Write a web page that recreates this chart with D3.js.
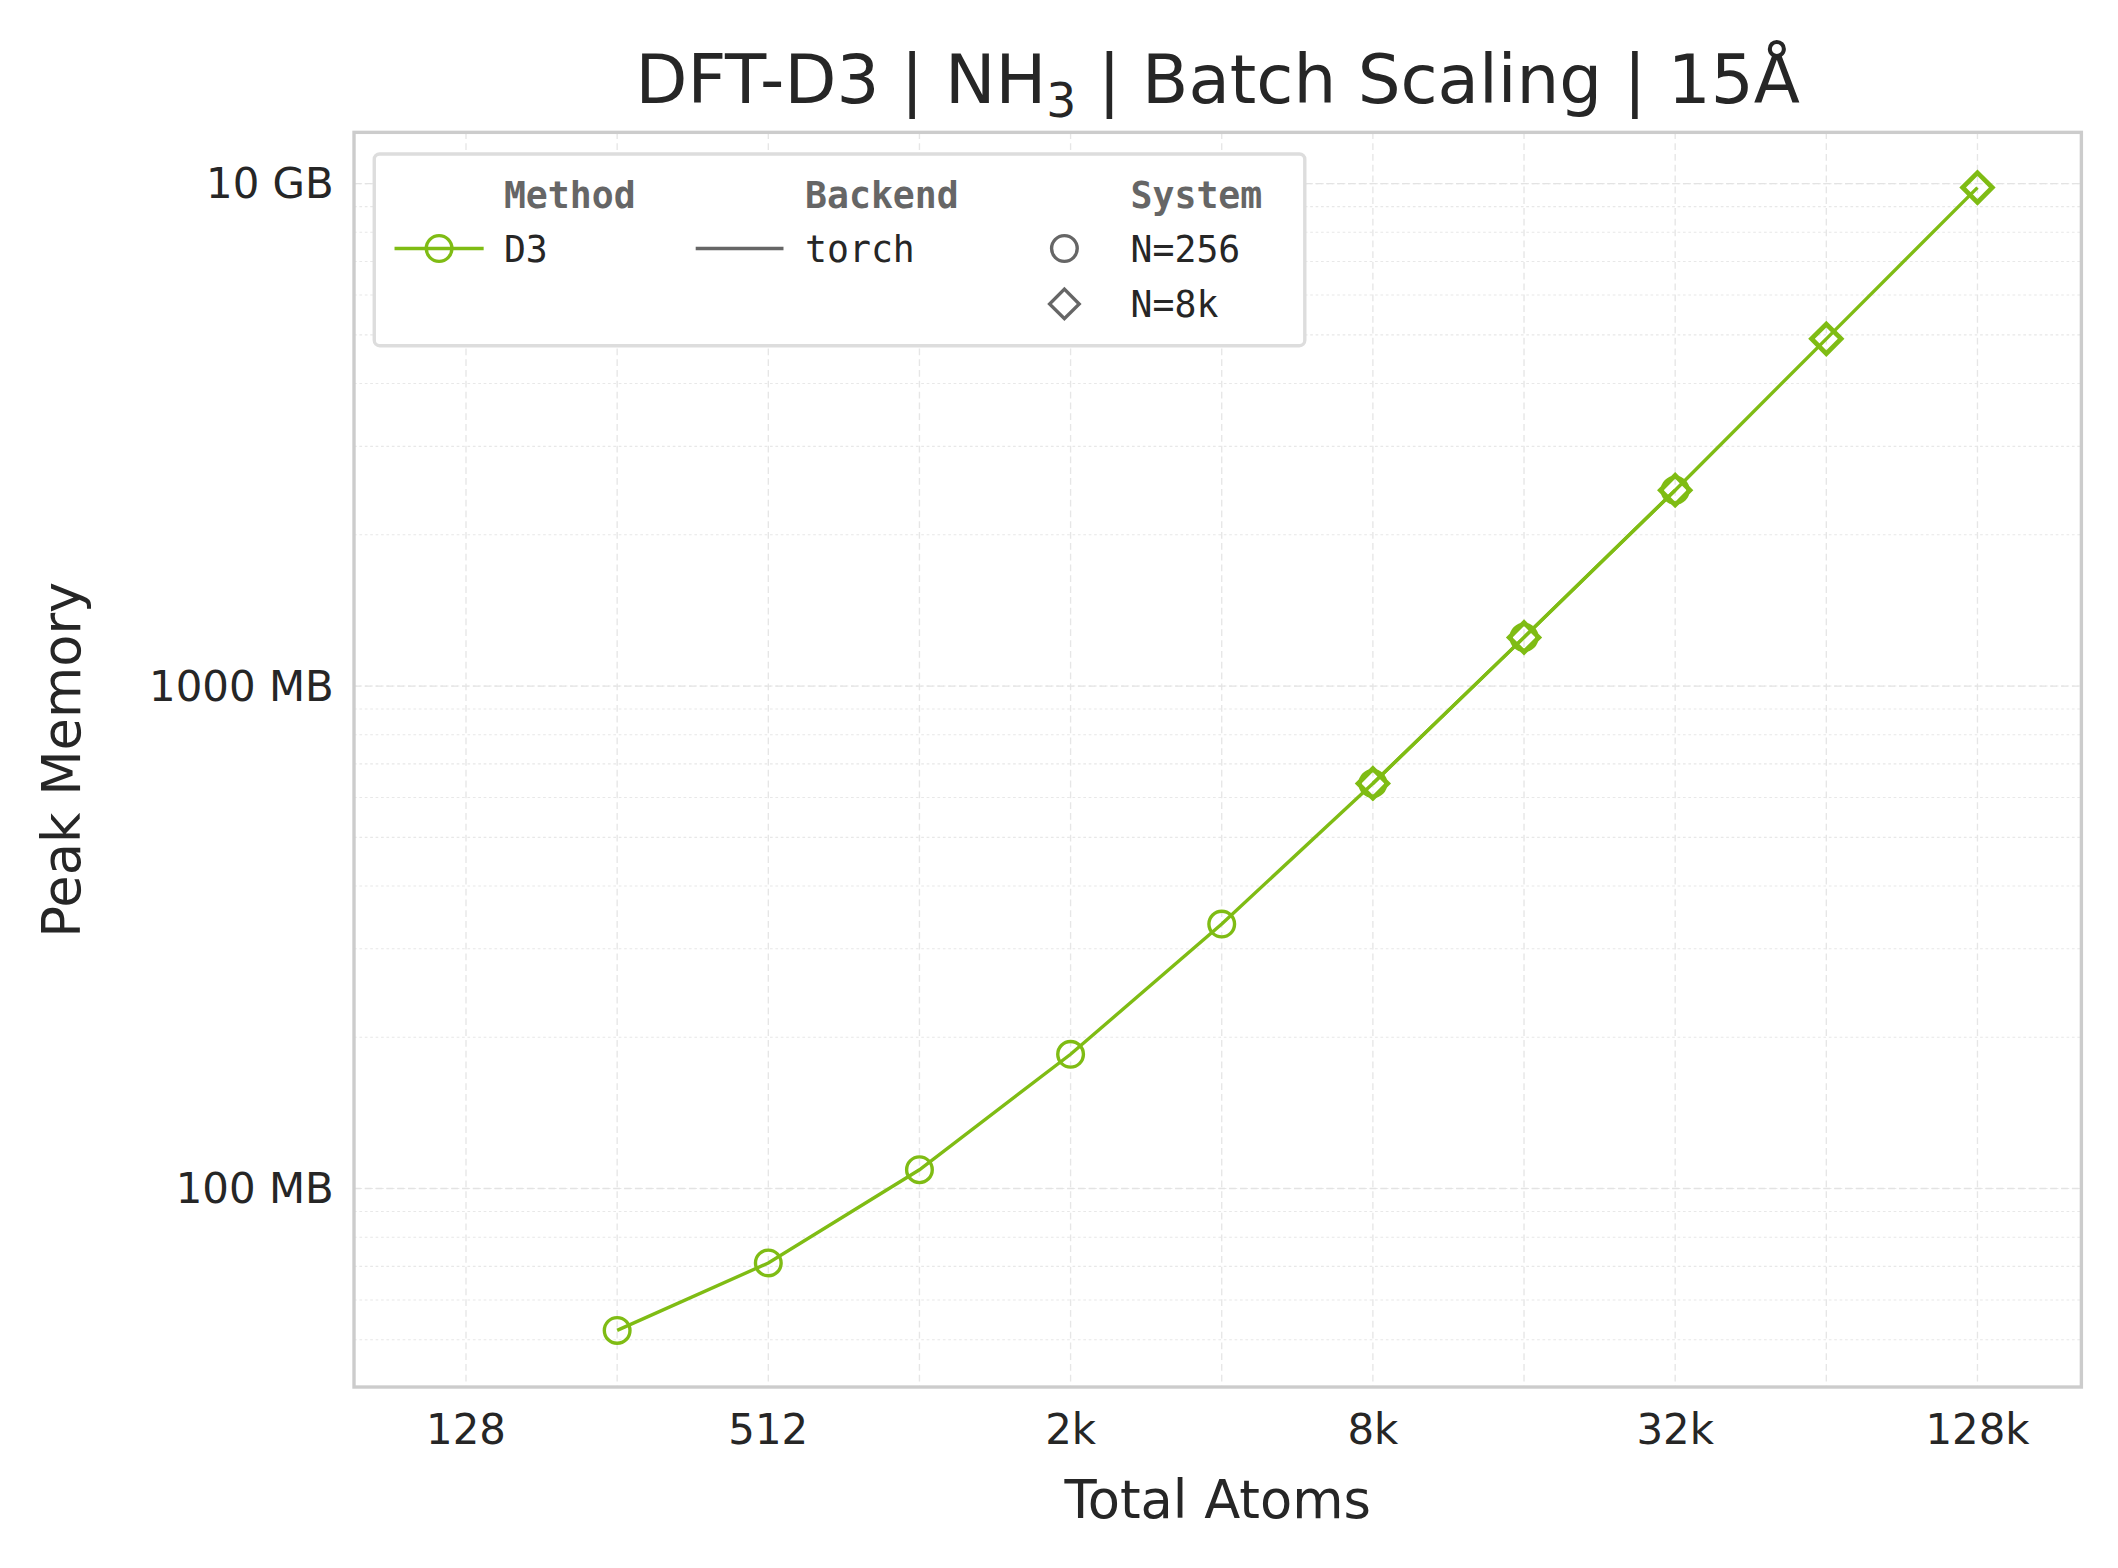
<!DOCTYPE html>
<html><head><meta charset="utf-8">
<script src="https://cdn.jsdelivr.net/npm/d3@7"></script>
<style>body{margin:0;background:#fff}</style>
</head><body>
<script>
var atoms = [256, 512, 1024, 2048, 4096, 8192, 16384, 32768, 65536, 131072]
var memMB = [52.2, 71.1, 109, 185, 336, 640, 1250, 2454, 4910, 9820]
var circleAtoms = [256, 512, 1024, 2048, 4096, 8192, 16384, 32768]
var diamondAtoms = [8192, 16384, 32768, 65536, 131072]
var xTicks = [128, 512, 2048, 8192, 32768, 131072]
var xTickLabels = ["128", "512", "2k", "8k", "32k", "128k"]
var yTicks = [100, 1000, 10000]
var yTickLabels = ["100 MB", "1000 MB", "10 GB"]

var green = "#7fbc14"
var W = 1568, H = 1161
var m = {l: 262, r: 1541, t: 98, b: 1027}

var svg = d3.select("body").append("svg")
    .attr("width", 2118).attr("height", 1568)
    .attr("viewBox", "0 0 " + W + " " + H)
    .style("font-family", "DejaVu Sans")

var x = d3.scaleLog().base(2).domain([Math.pow(2, 6.259), Math.pow(2, 17.6875)]).range([m.l, m.r])
var y = d3.scaleLog().domain([Math.pow(10, 1.605), Math.pow(10, 4.102)]).range([m.b, m.t])

// grid
var xGrid = d3.range(7, 18).map(function (e) { return Math.pow(2, e) })
svg.selectAll(".xg").data(xGrid).enter().append("line")
    .attr("x1", x).attr("x2", x).attr("y1", m.t).attr("y2", m.b)
    .attr("stroke", "#e6e6e6").attr("stroke-width", 1).attr("stroke-dasharray", "5,3")
var yMinor = []
for (var e = 1; e <= 4; e++) for (var k = 1; k <= 9; k++) {
    var v = k * Math.pow(10, e)
    if (v > y.domain()[0] && v < y.domain()[1]) yMinor.push(v)
}
svg.selectAll(".yg").data(yMinor).enter().append("line")
    .attr("x1", m.l).attr("x2", m.r).attr("y1", y).attr("y2", y)
    .attr("stroke", "#e8e8e8").attr("stroke-width", 0.8).attr("stroke-dasharray", "2,2")
svg.selectAll(".ygm").data(yTicks).enter().append("line")
    .attr("x1", m.l).attr("x2", m.r).attr("y1", y).attr("y2", y)
    .attr("stroke", "#e3e3e3").attr("stroke-width", 1).attr("stroke-dasharray", "5,3")

svg.append("rect").attr("x", m.l).attr("y", m.t).attr("width", m.r - m.l).attr("height", m.b - m.t)
    .attr("fill", "none").attr("stroke", "#cccccc").attr("stroke-width", 2.5)

// ticks
svg.selectAll(".xt").data(xTicks).enter().append("text")
    .attr("x", x).attr("y", m.b + 42).attr("text-anchor", "middle")
    .attr("font-size", 31).attr("fill", "#262626")
    .text(function (d, i) { return xTickLabels[i] })
svg.selectAll(".yt").data(yTicks).enter().append("text")
    .attr("x", m.l - 15).attr("y", function (d) { return y(d) + 11 }).attr("text-anchor", "end")
    .attr("font-size", 31).attr("fill", "#262626")
    .text(function (d, i) { return yTickLabels[i] })

svg.append("text").attr("x", (m.l + m.r) / 2).attr("y", 1124).attr("text-anchor", "middle")
    .attr("font-size", 39).attr("fill", "#262626").text("Total Atoms")
svg.append("text").attr("transform", "translate(59," + ((m.t + m.b) / 2) + ") rotate(-90)")
    .attr("text-anchor", "middle").attr("font-size", 39).attr("fill", "#262626").text("Peak Memory")

var title = svg.append("text").attr("x", (m.l + m.r) / 2).attr("y", 76).attr("text-anchor", "middle")
    .attr("font-size", 50).attr("fill", "#262626")
title.append("tspan").text("DFT-D3 | NH")
title.append("tspan").attr("font-size", 35).attr("dy", 11).text("3")
title.append("tspan").attr("dy", -11).text(" | Batch Scaling | 15Å")

// data
var pts = atoms.map(function (a, i) { return [a, memMB[i]] })
var memAt = function (a) { return memMB[atoms.indexOf(a)] }
var line = d3.line().x(function (d) { return x(d[0]) }).y(function (d) { return y(d[1]) })
svg.append("path").datum(pts.filter(function (d) { return d[0] <= 32768 }))
    .attr("d", line).attr("fill", "none").attr("stroke", green).attr("stroke-width", 2.5)
svg.append("path").datum(pts.filter(function (d) { return d[0] >= 8192 }))
    .attr("d", line).attr("fill", "none").attr("stroke", green).attr("stroke-width", 2.5)
svg.selectAll(".c").data(circleAtoms).enter().append("circle")
    .attr("cx", x).attr("cy", function (d) { return y(memAt(d)) }).attr("r", 9.5)
    .attr("fill", "none").attr("stroke", green).attr("stroke-width", 2.5)
var diamond = d3.symbol().type(d3.symbolSquare).size(240)
svg.selectAll(".d").data(diamondAtoms).enter().append("path")
    .attr("d", diamond)
    .attr("transform", function (d) { return "translate(" + x(d) + "," + y(memAt(d)) + ") rotate(45)" })
    .attr("fill", "none").attr("stroke", green).attr("stroke-width", 3.5)

// legend
var lg = svg.append("g").style("font-family", "DejaVu Sans Mono")
lg.append("rect").attr("x", 277).attr("y", 114).attr("width", 689).attr("height", 142).attr("rx", 4)
    .attr("fill", "#fff").attr("stroke", "#dddddd").attr("stroke-width", 2.5)
var heads = [["Method", 373], ["Backend", 596], ["System", 837]]
lg.selectAll(".h").data(heads).enter().append("text")
    .attr("x", function (d) { return d[1] }).attr("y", 154).attr("font-size", 27).attr("font-weight", "bold")
    .attr("fill", "#666").text(function (d) { return d[0] })
lg.append("line").attr("x1", 292).attr("x2", 358).attr("y1", 184).attr("y2", 184).attr("stroke", green).attr("stroke-width", 2.5)
lg.append("circle").attr("cx", 325).attr("cy", 184).attr("r", 9.5).attr("fill", "none").attr("stroke", green).attr("stroke-width", 2.5)
lg.append("text").attr("x", 373).attr("y", 194).attr("font-size", 27).attr("fill", "#262626").text("D3")
lg.append("line").attr("x1", 515).attr("x2", 580).attr("y1", 184).attr("y2", 184).attr("stroke", "#666").attr("stroke-width", 2.5)
lg.append("text").attr("x", 596).attr("y", 194).attr("font-size", 27).attr("fill", "#262626").text("torch")
lg.append("circle").attr("cx", 788).attr("cy", 184).attr("r", 9.5).attr("fill", "none").attr("stroke", "#666").attr("stroke-width", 2.5)
lg.append("text").attr("x", 837).attr("y", 194).attr("font-size", 27).attr("fill", "#262626").text("N=256")
lg.append("path").attr("d", diamond).attr("transform", "translate(788,225) rotate(45)")
    .attr("fill", "none").attr("stroke", "#666").attr("stroke-width", 2.5)
lg.append("text").attr("x", 837).attr("y", 235).attr("font-size", 27).attr("fill", "#262626").text("N=8k")
</script>
</body></html>
